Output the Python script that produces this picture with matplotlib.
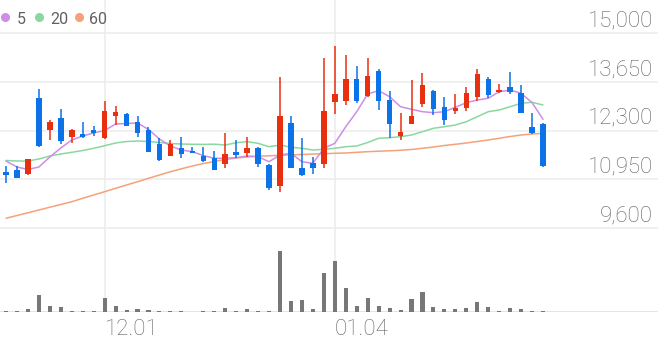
import matplotlib.pyplot as plt
import matplotlib.transforms as mtransforms
import numpy as np

# OHLC (원), 50 trading days, left to right
opens = [11140, 11210, 11090, 13210, 12310, 12650, 12130, 12200, 12310, 12080,
         12700, 12750, 12540, 12310, 11920, 11590, 11810, 11740, 11600, 11550,
         11370, 11700, 11690, 11810, 11340, 10770, 12500, 11250, 11390, 11360,
         13100, 13130, 13740, 13260, 13960, 13140, 12150, 12480, 13030, 13400,
         12940, 12840, 12910, 13240, 13720, 13370, 13500, 13350, 12390, 12480]
highs = [11320, 11320, 11520, 13450, 12590, 12900, 12340, 12530, 12430, 13130,
         12990, 12780, 12700, 12410, 12080, 12040, 12130, 11850, 11830, 11730,
         12240, 12040, 12130, 11830, 11370, 13790, 12700, 12080, 11570, 14300,
         14650, 14390, 14090, 14320, 13990, 13390, 12780, 13700, 13900, 13420,
         13240, 13300, 13510, 13990, 13790, 13590, 13930, 13560, 12790, 12520]
lows = [10850, 10980, 11080, 11850, 12040, 11920, 11950, 12080, 12150, 12060,
        12450, 12430, 12130, 11700, 11460, 11590, 11530, 11680, 11440, 11200,
        11250, 11530, 11570, 11300, 10650, 10590, 11270, 11050, 11100, 11250,
        12750, 13010, 13050, 13230, 12870, 12080, 12040, 12480, 12940, 12730,
        12450, 12750, 12850, 13120, 13190, 13330, 13310, 12780, 12190, 11300]
closes = [11080, 10980, 11510, 11870, 12540, 12010, 12310, 12130, 12220, 12850,
          12800, 12430, 12240, 11700, 11480, 11920, 11640, 11690, 11460, 11220,
          11650, 11620, 11810, 11370, 10720, 12700, 11270, 11070, 11270, 12850,
          13310, 13740, 13130, 13800, 13120, 12470, 12250, 12700, 13560, 12890,
          12590, 12910, 13350, 13860, 13280, 13420, 13370, 12780, 12220, 11320]

# 거래량 (천주)
volumes = [52, 52, 120, 680, 228, 188, 52, 60, 60, 548,
           240, 92, 140, 100, 52, 52, 60, 20, 28, 52,
           160, 52, 120, 52, 52, 2440, 440, 480, 108, 1572,
           2040, 948, 252, 548, 252, 172, 92, 520, 788, 188,
           108, 132, 172, 412, 188, 52, 160, 108, 60, 60]

# moving averages as drawn
ma5 = [11455, 11289, 11220, 11289, 11566, 11815, 12037, 12148, 12231, 12300,
       12480, 12494, 12508, 12328, 12065, 11871, 11760, 11713, 11608, 11530,
       11530, 11547, 11594, 11574, 11436, 11622, 11669, 11436, 11392, 11807,
       11945, 12405, 12821, 13311, 13402, 13236, 12959, 12887, 12821, 12793,
       12821, 12942, 13070, 13145, 13192, 13374, 13421, 13330, 13070, 12610]
ma20 = [11469, 11455, 11455, 11511, 11594, 11649, 11696, 11746, 11807, 11879,
        11954, 11995, 12009, 11995, 11968, 11940, 11926, 11918, 11915, 11921,
        11898, 11962, 11990, 11945, 11851, 11898, 11835, 11807, 11760, 11779,
        11807, 11851, 11871, 11968, 12084, 12101, 12128, 12175, 12267, 12361,
        12405, 12452, 12544, 12682, 12821, 12868, 12959, 13053, 13081, 13006]
ma60 = [9869, 9946, 10021, 10098, 10176, 10251, 10328, 10423, 10514, 10605,
        10699, 10791, 10882, 10976, 11068, 11159, 11239, 11317, 11386, 11442,
        11497, 11538, 11566, 11586, 11599, 11613, 11627, 11635, 11649, 11657,
        11669, 11677, 11696, 11713, 11727, 11738, 11752, 11774, 11807, 11843,
        11885, 11918, 11954, 11995, 12037, 12084, 12134, 12175, 12203, 12222]

price_ticks = [9600, 10950, 12300, 13650, 15000]
date_ticks = [9, 30]
date_labels = ['12.01', '01.04']
ma_names = ['5', '20', '60']

UP = '#e8300f'
DOWN = '#0b72e7'
MA_COLORS = ['#cf8de8', '#8ad8a0', '#f5a17a']
GRID = '#ececec'
TEXT = '#616161'
FONT = ['Roboto', 'DejaVu Sans']

W, H = 658, 342
fig = plt.figure(figsize=(W / 100, H / 100), dpi=100)
ax = fig.add_axes([0, 1 - 240 / H, 1, 240 / H])
vax = fig.add_axes([0, 1 - 312 / H, 1, 72 / H])

x = np.arange(len(closes))
step = 10.96  # px per candle
xlim = (-6 / step, (W - 6) / step)
for a in (ax, vax):
    a.set_xlim(*xlim)
    a.axis('off')

pp = 5400 / 195  # won per px
ax.set_ylim(9600 - 12 * pp, 15000 + 33 * pp)
vax.set_ylim(0, max(volumes) * 72 / 61)

# grid
for p in price_ticks:
    ax.axhline(p, color=GRID, lw=1.1, zorder=0)
for t in date_ticks:
    ax.axvline(t, color=GRID, lw=1.1, zorder=0)
    vax.axvline(t, color=GRID, lw=1.1, zorder=0)
vax.axhline(0, color='#dddddd', lw=1.1, zorder=0)

# moving averages
for ma, c in zip([ma60, ma20, ma5], MA_COLORS[::-1]):
    ax.plot(x, ma, color=c, lw=1.1, zorder=1, solid_capstyle='round')

# candles
colors = [UP if c >= o else DOWN for o, c in zip(opens, closes)]
ax.vlines(x, lows, highs, colors=colors, lw=1.1, zorder=2)
bottoms = np.minimum(opens, closes)
heights = np.maximum(np.abs(np.array(closes) - np.array(opens)), 40)
ax.bar(x, heights, bottom=bottoms, width=0.5, color=colors, zorder=3)

# volume
vax.bar(x, volumes, width=0.37, color='#777777', zorder=2)

# price labels (right)
trans = mtransforms.blended_transform_factory(ax.transAxes, ax.transData)
trans = mtransforms.offset_copy(trans, fig=fig, y=6.6, units='dots')
for p in price_ticks:
    ax.text(653 / W, p, f'{p:,}', transform=trans, ha='right', va='baseline',
            fontsize=16, color=TEXT, family=FONT, fontweight='light')

# date labels
dtrans = mtransforms.blended_transform_factory(ax.transData, fig.transFigure)
for t, lab in zip(date_ticks, date_labels):
    ax.text(t, 1 - 335 / H, lab, transform=dtrans, ha='left', va='baseline',
            fontsize=16, color=TEXT, family=FONT, fontweight='light', clip_on=False)

# legend
dot_x = [5, 39.3, 79]
txt_x = [17, 50, 89]
for dx, tx, name, c in zip(dot_x, txt_x, ma_names, MA_COLORS):
    fig.add_artist(plt.Line2D([dx / W], [1 - 17.3 / H], marker='o', markersize=5.5,
                              color=c, transform=fig.transFigure))
    fig.text(tx / W, 1 - 23.5 / H, name, ha='left', va='baseline', fontsize=11.5,
             color=TEXT, family=FONT)

fig.savefig('out.png', dpi=100)
plt.close(fig)
